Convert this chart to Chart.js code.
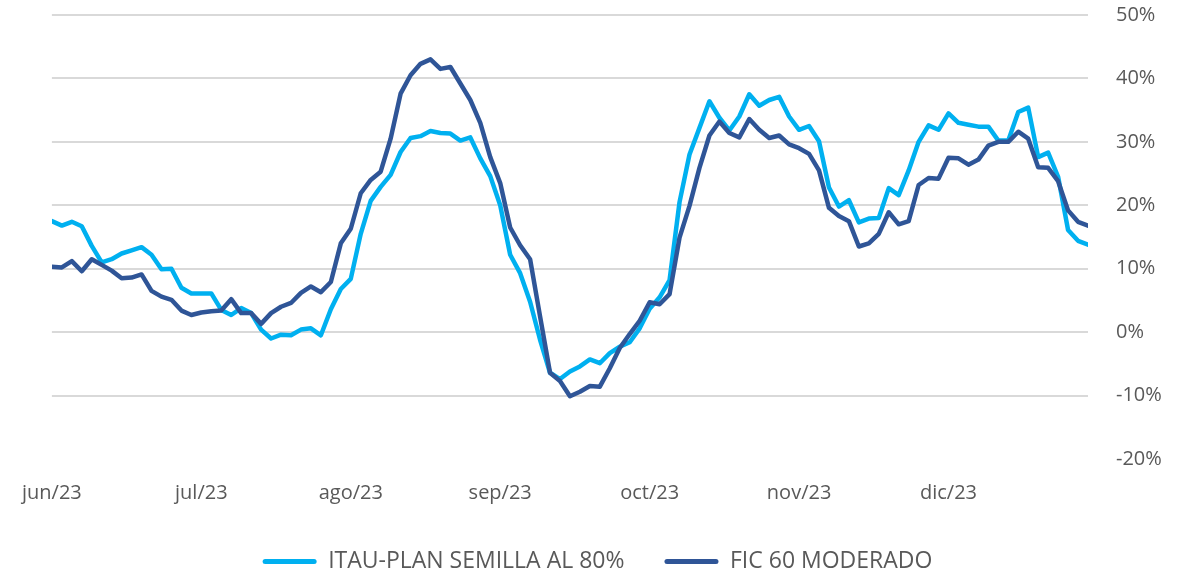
<!DOCTYPE html>
<html lang="es">
<head>
  <meta charset="UTF-8">
  <title>Rentabilidad ITAU-PLAN SEMILLA vs FIC 60 MODERADO</title>
  <script src="https://cdn.jsdelivr.net/npm/chart.js"></script>
  <style>
    html, body { margin: 0; padding: 0; background: #fff; }
    .wrap { width: 1195px; height: 574px; position: relative; }
  </style>
</head>
<body>
  <div class="wrap">
    <canvas id="retChart"></canvas>
  </div>

  <script>
    // etiquetas de meses (eje x, una cada 30 días)
    const monthLabels = ['jun/23', 'jul/23', 'ago/23', 'sep/23', 'oct/23', 'nov/23', 'dic/23'];
    const seriesNames = ['ITAU-PLAN SEMILLA AL 80%', 'FIC 60 MODERADO'];

    // muestras cada 2 días desde el 1 de junio (valores en %)
    const itau = [
      17.5, 16.8, 17.4, 16.7, 13.6, 11.0, 11.5, 12.4, 12.9, 13.4,
      12.2, 9.9, 10.0, 7.0, 6.1, 6.1, 6.1, 3.5, 2.7, 3.8,
      3.0, 0.4, -1.0, -0.4, -0.5, 0.4, 0.6, -0.5, 3.6, 6.8,
      8.4, 15.5, 20.7, 22.9, 24.8, 28.4, 30.6, 30.9, 31.7, 31.4,
      31.3, 30.2, 30.7, 27.4, 24.6, 20.0, 12.2, 9.3, 4.8, -1.2,
      -6.4, -7.4, -6.2, -5.4, -4.3, -4.9, -3.3, -2.3, -1.6, 0.6,
      3.7, 5.5, 8.2, 20.5, 28.0, 32.2, 36.4, 33.8, 31.8, 34.0,
      37.5, 35.7, 36.6, 37.1, 34.0, 31.9, 32.5, 30.1, 22.8, 19.8,
      20.8, 17.3, 17.9, 18.0, 22.7, 21.6, 25.5, 30.0, 32.6, 31.9,
      34.5, 33.0, 32.7, 32.4, 32.4, 30.2, 30.2, 34.7, 35.4, 27.6,
      28.3, 24.5, 16.1, 14.4, 13.8
    ];
    const fic = [
      10.3, 10.2, 11.2, 9.6, 11.5, 10.6, 9.7, 8.5, 8.6, 9.1,
      6.5, 5.6, 5.1, 3.4, 2.7, 3.1, 3.3, 3.4, 5.2, 3.0,
      3.0, 1.3, 3.0, 4.0, 4.6, 6.2, 7.2, 6.3, 7.9, 14.0,
      16.3, 21.9, 24.0, 25.3, 30.5, 37.6, 40.5, 42.3, 43.0, 41.5,
      41.8, 39.2, 36.6, 33.0, 27.6, 23.5, 16.5, 13.7, 11.5, 2.5,
      -6.4, -7.7, -10.1, -9.4, -8.5, -8.6, -5.7, -2.5, -0.3, 1.8,
      4.7, 4.4, 6.0, 14.9, 19.9, 25.9, 31.0, 33.2, 31.4, 30.7,
      33.6, 31.9, 30.6, 31.0, 29.6, 29.0, 28.1, 25.5, 19.6, 18.3,
      17.5, 13.5, 14.0, 15.5, 18.9, 17.0, 17.5, 23.2, 24.3, 24.2,
      27.5, 27.4, 26.4, 27.2, 29.4, 30.0, 30.0, 31.6, 30.5, 26.0,
      25.9, 23.8, 19.2, 17.4, 16.8
    ];
    const sampleStepDays = 2;

    const toPoints = arr => arr.map((v, i) => ({ x: i * sampleStepDays, y: v }));
    const textColor = '#595959';
    const baseFont = { family: "'Open Sans', 'Noto Sans', sans-serif", size: 20 };

    // la leyenda va centrada sobre todo el lienzo, no solo sobre el área del gráfico
    const legendFullWidth = {
      id: 'legendFullWidth',
      afterLayout(chart) {
        if (chart.legend) chart.legend.left = 0;
      }
    };

    new Chart(document.getElementById('retChart'), {
      type: 'line',
      data: {
        datasets: [
          {
            label: seriesNames[0],
            data: toPoints(itau),
            borderColor: '#00b0f0',
            backgroundColor: '#00b0f0',
            borderWidth: 4.5,
            pointRadius: 0,
            tension: 0,
            borderJoinStyle: 'round',
            borderCapStyle: 'round',
            order: 2
          },
          {
            label: seriesNames[1],
            data: toPoints(fic),
            borderColor: '#2f5597',
            backgroundColor: '#2f5597',
            borderWidth: 4.5,
            pointRadius: 0,
            tension: 0,
            borderJoinStyle: 'round',
            borderCapStyle: 'round',
            order: 1
          }
        ]
      },
      plugins: [legendFullWidth],
      options: {
        responsive: true,
        maintainAspectRatio: false,
        animation: false,
        layout: { padding: { left: 50, top: 15, right: 0, bottom: -9 } },
        scales: {
          x: {
            type: 'linear',
            min: 0,
            max: (itau.length - 1) * sampleStepDays,
            grid: { display: false, drawTicks: false },
            border: { display: false },
            afterBuildTicks: scale => {
              scale.ticks = monthLabels.map((_, i) => ({ value: i * 30 }));
            },
            afterFit: scale => { scale.height = 51; },
            ticks: {
              color: textColor,
              font: baseFont,
              padding: 22,
              maxRotation: 0,
              autoSkip: false,
              callback: v => monthLabels[Math.round(v / 30)]
            }
          },
          y: {
            position: 'right',
            min: -20,
            max: 50,
            afterFit: scale => {
              scale.width = 107;
              scale.paddingTop = 0;
              scale.paddingBottom = 0;
            },
            grid: {
              drawTicks: false,
              lineWidth: 2,
              color: ctx => ctx.tick && ctx.tick.value === -20 ? 'rgba(0,0,0,0)' : '#d9d9d9'
            },
            border: { display: false },
            ticks: {
              stepSize: 10,
              color: textColor,
              font: baseFont,
              padding: 28,
              callback: v => v + '%'
            }
          }
        },
        plugins: {
          tooltip: { enabled: false },
          legend: {
            position: 'bottom',
            labels: {
              color: textColor,
              font: { family: baseFont.family, size: 23 },
              boxWidth: 54,
              boxHeight: 5,
              padding: 40,
              useBorderRadius: true,
              borderRadius: 2.5,
              sort: (a, b) => a.datasetIndex - b.datasetIndex,
              generateLabels: chart => {
                const items = Chart.defaults.plugins.legend.labels.generateLabels(chart);
                items.forEach(it => { it.lineWidth = 0; it.fillStyle = it.strokeStyle; });
                return items;
              }
            }
          }
        }
      }
    });
  </script>
</body>
</html>
